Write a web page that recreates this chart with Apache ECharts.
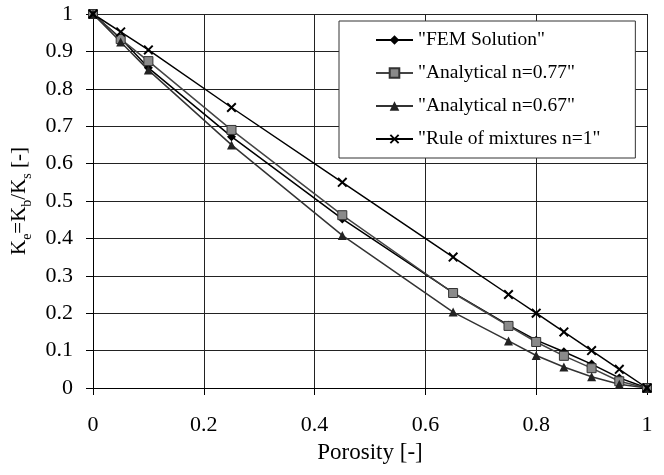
<!DOCTYPE html>
<html>
<head>
<meta charset="utf-8">
<script src="https://cdn.jsdelivr.net/npm/echarts@6/dist/echarts.min.js"></script>
<style>
    html, body { margin: 0; padding: 0; background: #fff; }
    #main { width: 664px; height: 475px; }
</style>
</head>
<body>
<div id="main"></div>
<script>
// porosity values (x)
var porosity = [0, 0.05, 0.1, 0.25, 0.45, 0.65, 0.75, 0.8, 0.85, 0.9, 0.95, 1];
// Ke values per series
var femData = [1, 0.935, 0.856, 0.672, 0.452, 0.255, 0.168, 0.128, 0.097, 0.064, 0.027, 0];
var analytic077 = [1, 0.933, 0.874, 0.69, 0.462, 0.254, 0.166, 0.123, 0.086, 0.053, 0.018, 0];
var analytic067 = [1, 0.925, 0.85, 0.65, 0.408, 0.203, 0.126, 0.087, 0.056, 0.03, 0.01, 0];
var mixtures = [1, 0.952, 0.904, 0.75, 0.55, 0.35, 0.25, 0.2, 0.15, 0.1, 0.05, 0];
var seriesNames = ['"FEM Solution"', '"Analytical n=0.77"', '"Analytical n=0.67"', '"Rule of mixtures n=1"'];

function pairs(ys) {
    var out = [];
    for (var i = 0; i < porosity.length; i++) {
        out.push([porosity[i], ys[i]]);
    }
    return out;
}

var crossPath = 'path://M0,1.4L1.4,0L10,8.6L8.6,10Z M8.6,0L10,1.4L1.4,10L0,8.6Z';
var font = 'Liberation Serif';

var myChart = echarts.init(document.getElementById('main'));
var option = {
    backgroundColor: '#fff',
    animation: false,
    textStyle: { fontFamily: font, color: '#000' },
    grid: { left: 93, right: 17, top: 14, bottom: 87, outerBoundsMode: 'none', containLabel: false },
    legend: {
        orient: 'vertical',
        left: 339,
        top: 21,
        padding: [9, 35, 9, 36],
        itemGap: 13,
        itemWidth: 37,
        itemHeight: 12,
        backgroundColor: '#fff',
        borderColor: '#333',
        borderWidth: 1,
        borderRadius: 0,
        textStyle: { fontFamily: font, fontSize: 19.5, color: '#000' },
        data: seriesNames
    },
    xAxis: {
        type: 'value',
        min: 0,
        max: 1,
        interval: 0.2,
        name: 'Porosity [-]',
        nameLocation: 'middle',
        nameGap: 53,
        nameTextStyle: { fontFamily: font, fontSize: 23, color: '#000', verticalAlign: 'top' },
        axisLine: { lineStyle: { color: '#000', width: 1 } },
        axisTick: { show: true, length: 7, inside: false, lineStyle: { color: '#000' } },
        axisLabel: { fontFamily: font, fontSize: 22, color: '#000', margin: 26 },
        splitLine: { show: true, lineStyle: { color: '#222', width: 1 } }
    },
    yAxis: {
        type: 'value',
        min: 0,
        max: 1,
        interval: 0.1,
        name: '{a|K}{s|e}{a|=K}{s|b}{a|/K}{s|s}{a| [-]}',
        nameLocation: 'middle',
        nameGap: 63,
        nameTextStyle: {
            fontFamily: font,
            color: '#000',
            rich: {
                a: { fontFamily: font, fontSize: 21, color: '#000', lineHeight: 24, verticalAlign: 'bottom' },
                s: { fontFamily: font, fontSize: 14, color: '#000', lineHeight: 24, verticalAlign: 'bottom', padding: [0, 0, -4, 0] }
            }
        },
        axisLine: { show: true, lineStyle: { color: '#000', width: 1 } },
        axisTick: { show: true, length: 7, inside: false, lineStyle: { color: '#000' } },
        axisLabel: { fontFamily: font, fontSize: 22, color: '#000', margin: 20 },
        splitLine: { show: true, lineStyle: { color: '#222', width: 1 } }
    },
    series: [
        {
            name: seriesNames[0],
            type: 'line',
            data: pairs(femData),
            symbol: 'diamond',
            symbolSize: 9,
            lineStyle: { color: '#000', width: 1.5 },
            itemStyle: { color: '#000' }
        },
        {
            name: seriesNames[1],
            type: 'line',
            data: pairs(analytic077),
            symbol: 'rect',
            symbolSize: 9,
            lineStyle: { color: '#444', width: 1.5 },
            itemStyle: { color: '#8a8a8a', borderColor: '#333', borderWidth: 1 }
        },
        {
            name: seriesNames[2],
            type: 'line',
            data: pairs(analytic067),
            symbol: 'triangle',
            symbolSize: 9,
            lineStyle: { color: '#333', width: 1.5 },
            itemStyle: { color: '#222' }
        },
        {
            name: seriesNames[3],
            type: 'line',
            data: pairs(mixtures),
            symbol: crossPath,
            symbolSize: 10,
            lineStyle: { color: '#000', width: 1.5 },
            itemStyle: { color: '#000' }
        }
    ]
};
myChart.setOption(option);
</script>
</body>
</html>
